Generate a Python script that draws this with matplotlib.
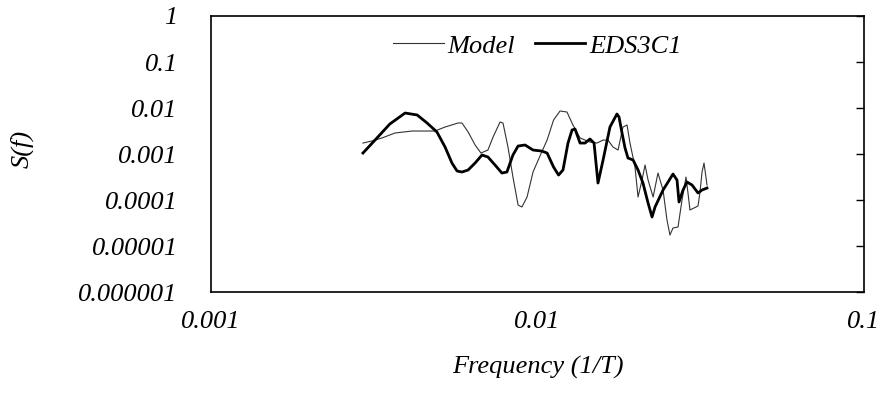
"""
Spectral density S(f) of the model vs. the EDS3C1 record, log-log.

    python3 plot.py     # writes out.png
"""

import matplotlib

matplotlib.use("Agg")
import matplotlib.pyplot as plt

OUTPUT_PATH = "out.png"

# --- EDS3C1 (thick line) ---
eds_freq = [
    0.00292, 0.00318, 0.00353, 0.00393, 0.00428, 0.00459, 0.00492, 0.00521,
    0.00547, 0.00567, 0.00587, 0.00613, 0.00644, 0.00676, 0.00705, 0.00741,
    0.00778, 0.00806, 0.00841, 0.00872, 0.00916, 0.00969, 0.0103, 0.0107,
    0.0112, 0.0116, 0.01197, 0.0124, 0.01276, 0.01303, 0.0135, 0.01398,
    0.01448, 0.0149, 0.01532, 0.01588, 0.01667, 0.01751, 0.01777, 0.01815,
    0.01854, 0.01893, 0.01962, 0.02032, 0.02104, 0.02181, 0.02243, 0.02291,
    0.02424, 0.02511, 0.026, 0.02675, 0.02713, 0.02791, 0.0287, 0.02974,
    0.03102, 0.03191, 0.03305,
]
eds_s = [
    0.00105, 0.00201, 0.00449, 0.00778, 0.00705, 0.00472, 0.00301, 0.00142,
    0.000637, 0.000427, 0.000406, 0.000449, 0.000637, 0.000951, 0.000861, 0.000577,
    0.000386, 0.000406, 0.000951, 0.00149, 0.00157, 0.00122, 0.00116, 0.00105,
    0.000521, 0.000349, 0.000449, 0.00173, 0.00333, 0.00349, 0.00173, 0.00173,
    0.00212, 0.00173, 0.000234, 0.000741, 0.00386, 0.00741, 0.00637, 0.00286,
    0.00135, 0.000818, 0.000741, 0.000449, 0.000234, 0.0000861, 0.0000427, 0.0000705,
    0.000165, 0.000246, 0.000367, 0.000272, 0.0000905, 0.000165, 0.000246, 0.000212,
    0.000142, 0.000165, 0.000182,
]

# --- Model (thin line) ---
model_freq = [
    0.00292, 0.00311, 0.00334, 0.00366, 0.00413, 0.00485, 0.00521, 0.00571,
    0.00587, 0.00613, 0.00644, 0.00671, 0.00705, 0.00731, 0.00768, 0.00784,
    0.00812, 0.00841, 0.00872, 0.00896, 0.00929, 0.00969, 0.0103, 0.0107,
    0.0112, 0.01172, 0.01231, 0.01284, 0.0135, 0.01448, 0.01521, 0.01588,
    0.01644, 0.01703, 0.01765, 0.01827, 0.0188, 0.0192, 0.01989, 0.02032,
    0.0209, 0.02135, 0.02181, 0.0226, 0.02339, 0.02424, 0.02492, 0.02545,
    0.026, 0.02694, 0.02771, 0.0285, 0.0289, 0.02931, 0.03102, 0.03146,
    0.03191, 0.03236, 0.03305,
]
model_s = [
    0.00173, 0.00192, 0.00223, 0.00286, 0.00316, 0.00316, 0.00386, 0.00472,
    0.00472, 0.00301, 0.00157, 0.00105, 0.00122, 0.00234, 0.00496, 0.00472,
    0.00142, 0.000316, 0.0000778, 0.0000705, 0.000116, 0.000406, 0.0011, 0.00201,
    0.00548, 0.00861, 0.00818, 0.00427, 0.00223, 0.00182, 0.00173, 0.00201,
    0.00201, 0.00142, 0.00122, 0.00386, 0.00427, 0.00173, 0.000521, 0.000116,
    0.000272, 0.000577, 0.000272, 0.000116, 0.000386, 0.000165, 0.0000368, 0.0000173,
    0.0000246, 0.0000259, 0.0001, 0.000316, 0.000142, 0.0000607, 0.0000741, 0.000149,
    0.000406, 0.000637, 0.000212,
]

x_ticks = [0.001, 0.01, 0.1]
x_tick_labels = ["0.001", "0.01", "0.1"]
y_ticks = [1e-6, 1e-5, 1e-4, 1e-3, 1e-2, 1e-1, 1]
y_tick_labels = ["0.000001", "0.00001", "0.0001", "0.001", "0.01", "0.1", "1"]

FONT = {"family": "Liberation Serif", "style": "italic"}
FONT_SIZE = 19


def plot(output):
    fig = plt.figure(figsize=(8.81, 3.98), dpi=100)
    ax = fig.add_axes([0.2395, 0.2663, 0.7412, 0.6935])

    ax.plot(model_freq, model_s, color="#333333", linewidth=0.8, label="Model")
    ax.plot(eds_freq, eds_s, color="black", linewidth=2.0, label="EDS3C1")

    ax.set_xscale("log")
    ax.set_yscale("log")
    ax.set_xlim(0.001, 0.1)
    ax.set_ylim(1e-6, 1)

    ax.set_xticks(x_ticks)
    ax.set_xticklabels(x_tick_labels, fontdict=FONT, fontsize=FONT_SIZE)
    ax.set_yticks(y_ticks)
    ax.set_yticklabels(y_tick_labels, fontdict=FONT, fontsize=FONT_SIZE)
    ax.minorticks_off()
    ax.tick_params(axis="x", length=0, pad=14)
    ax.tick_params(axis="y", left=False, right=True, direction="in", length=6,
                   width=1.0, pad=24)

    for spine in ax.spines.values():
        spine.set_linewidth(1.2)
        spine.set_color("black")

    ax.set_xlabel("Frequency (1/T)", fontdict=FONT, fontsize=FONT_SIZE, labelpad=16)
    ax.set_ylabel("S(f)", fontdict=FONT, fontsize=FONT_SIZE)
    ax.yaxis.set_label_coords(-0.272, 0.52)

    ax.legend(loc="upper center", bbox_to_anchor=(0.5, 1.02), ncol=2,
              frameon=False, handlelength=1.9, handletextpad=0.15,
              columnspacing=0.75, prop={"family": "Liberation Serif",
                                        "style": "italic", "size": FONT_SIZE})

    fig.savefig(output, dpi=100)
    print(f"Wrote {output}")


if __name__ == "__main__":
    plot(OUTPUT_PATH)
